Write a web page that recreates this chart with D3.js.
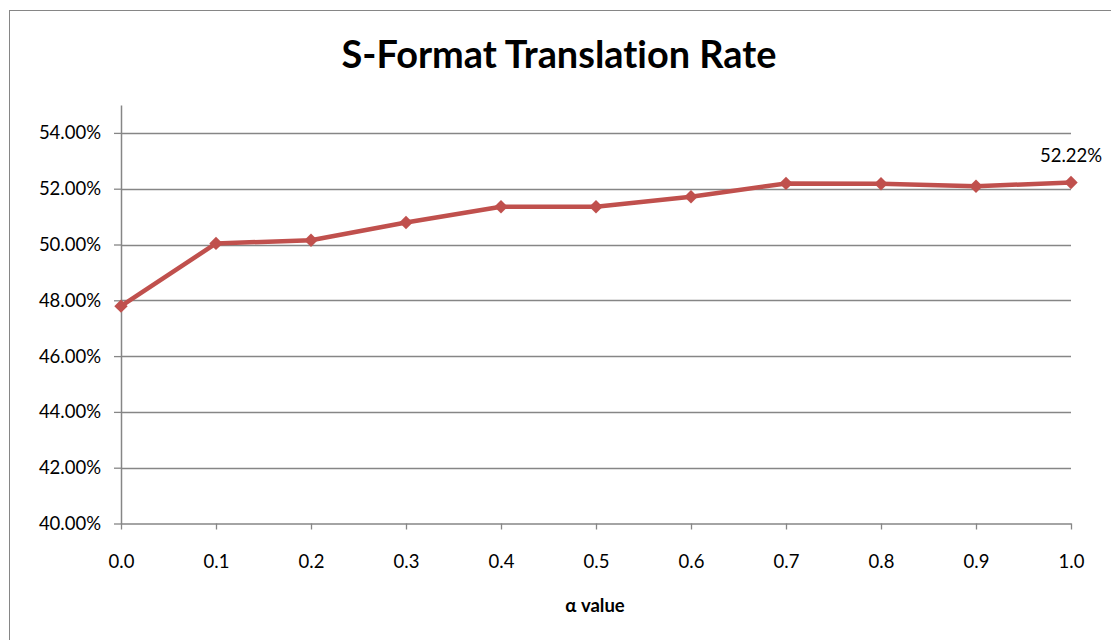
<!DOCTYPE html>
<html>
<head>
<meta charset="utf-8">
<script src="https://cdn.jsdelivr.net/npm/d3@7"></script>
<style>
  html, body { margin: 0; padding: 0; background: #fff; }
  svg { display: block; }
  text { font-family: Lato, "Open Sans", sans-serif; fill: #000; font-variant-ligatures: none; }
</style>
</head>
<body>
<svg id="chart" width="1111" height="640"></svg>
<script>
// alpha values along the x axis
const alphas = [0.0, 0.1, 0.2, 0.3, 0.4, 0.5, 0.6, 0.7, 0.8, 0.9, 1.0];
// translation rate for each alpha
const rates = [0.4779, 0.5004, 0.5015, 0.5079, 0.5135, 0.5135, 0.5171, 0.5219, 0.5218, 0.5209, 0.5222];
// y axis tick values
const yTicks = [0.40, 0.42, 0.44, 0.46, 0.48, 0.50, 0.52, 0.54];
const titleText = "S-Format Translation Rate";
const xTitle = "α value";

const svg = d3.select("#chart");
const plot = { left: 121, right: 1071, top: 105, bottom: 523.5 };

// outer chart frame
svg.append("rect")
  .attr("x", 9.5).attr("y", 10.5)
  .attr("width", 1120).attr("height", 660)
  .attr("fill", "#fff").attr("stroke", "#868686").attr("stroke-width", 1);

const x = d3.scaleLinear().domain([0, 1]).range([plot.left, plot.right]);
const y = d3.scaleLinear().domain([0.40, 0.55]).range([plot.bottom, plot.top]);

// horizontal gridlines
svg.append("g")
  .selectAll("line")
  .data(yTicks.filter(v => v > 0.40))
  .join("line")
  .attr("x1", plot.left).attr("x2", plot.right)
  .attr("y1", d => Math.round(y(d)) + 0.5).attr("y2", d => Math.round(y(d)) + 0.5)
  .attr("stroke", "#868686").attr("stroke-width", 1.3);

// y axis
const yAxis = d3.axisLeft(y)
  .tickValues(yTicks)
  .tickFormat(d3.format(".2%"))
  .tickSize(7)
  .tickPadding(13)
  .tickSizeOuter(0);
const gy = svg.append("g").attr("transform", `translate(${plot.left},0)`).call(yAxis);
gy.select(".domain").attr("stroke", "#868686").attr("stroke-width", 1.5);
gy.selectAll(".tick line").attr("stroke", "#868686").attr("stroke-width", 1.3);
gy.selectAll(".tick text").style("font-size", "18.5px").attr("fill", "#000");

// x axis
const xAxis = d3.axisBottom(x)
  .tickValues(alphas)
  .tickFormat(d3.format(".1f"))
  .tickSize(6)
  .tickPadding(25)
  .tickSizeOuter(0);
const gx = svg.append("g").attr("transform", `translate(0,${plot.bottom})`).call(xAxis);
gx.select(".domain").attr("stroke", "#868686").attr("stroke-width", 1.5);
gx.selectAll(".tick line").attr("stroke", "#868686").attr("stroke-width", 1.3);
gx.selectAll(".tick text").style("font-size", "18.5px").attr("fill", "#000");

// series line
const data = alphas.map((a, i) => ({ a, r: rates[i] }));
svg.append("path")
  .datum(data)
  .attr("fill", "none")
  .attr("stroke", "#C0504D")
  .attr("stroke-width", 4.5)
  .attr("stroke-linejoin", "round")
  .attr("d", d3.line().x(d => x(d.a)).y(d => y(d.r)));

// diamond markers
svg.append("g")
  .selectAll("path")
  .data(data)
  .join("path")
  .attr("transform", d => `translate(${x(d.a)},${y(d.r)})`)
  .attr("d", d3.symbol(d3.symbolDiamond2, 115))
  .attr("fill", "#C0504D");

// value label on the last point
const last = data[data.length - 1];
svg.append("text")
  .attr("x", x(last.a)).attr("y", y(last.r) - 21)
  .attr("text-anchor", "middle")
  .style("font-size", "18.5px")
  .text(d3.format(".2%")(last.r));

// title, sized to span the header width
const title = svg.append("text")
  .attr("x", 559).attr("y", 68)
  .attr("text-anchor", "middle")
  .style("font-size", "32px").style("font-weight", "bold")
  .text(titleText);
const tw = title.node().getComputedTextLength();
if (tw > 0) title.style("font-size", (32 * 435 / tw).toFixed(2) + "px");

// x axis title
svg.append("text")
  .attr("x", 595).attr("y", 612)
  .attr("text-anchor", "middle")
  .style("font-size", "18.5px").style("font-weight", "bold")
  .text(xTitle);
</script>
</body>
</html>
